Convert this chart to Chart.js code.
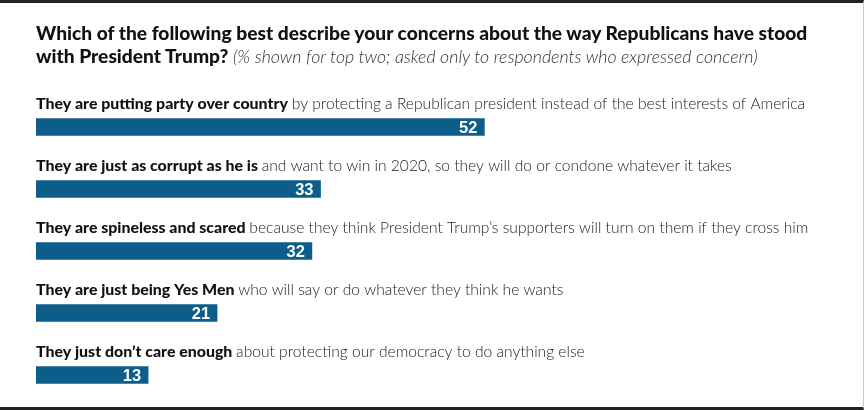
<!DOCTYPE html>
<html>
<head>
<meta charset="utf-8">
<script src="https://cdn.jsdelivr.net/npm/chart.js@4.4.1/dist/chart.umd.min.js"></script>
<style>
  html, body { margin: 0; padding: 0; background: #fff; }
  #wrap {
    position: relative;
    width: 864px;
    height: 410px;
    box-sizing: border-box;
    border-top: 3px solid #222;
    border-bottom: 3px solid #222;
    border-right: 1px solid #c8c8c8;
  }
  #title {
    position: absolute;
    left: 36px;
    top: 18px;
    font-family: Lato, sans-serif;
    font-weight: 900;
    font-size: 19.2px;
    line-height: 23px;
    color: #111;
    white-space: nowrap;
  }
  #title i {
    font-weight: 300;
    font-size: 17.8px;
    color: #333;
  }
  canvas { position: absolute; left: 0; top: -3px; }
</style>
</head>
<body>
<div id="wrap">
  <canvas id="chart" width="864" height="410"></canvas>
  <div id="title">Which of the following best describe your concerns about the way Republicans have stood<br>with President Trump? <i>(% shown for top two; asked only to respondents who expressed concern)</i></div>
</div>
<script>
const boldParts = [
  "They are putting party over country",
  "They are just as corrupt as he is",
  "They are spineless and scared",
  "They are just being Yes Men",
  "They just don\u2019t care enough",
];
const restParts = [
  "by protecting a Republican president instead of the best interests of America",
  "and want to win in 2020, so they will do or condone whatever it takes",
  "because they think President Trump\u2019s supporters will turn on them if they cross him",
  "who will say or do whatever they think he wants",
  "about protecting our democracy to do anything else",
];
const values = [52, 33, 32, 21, 13];

const barLabels = {
  id: "barLabels",
  afterDatasetsDraw(chart) {
    const ctx = chart.ctx;
    const meta = chart.getDatasetMeta(0);
    const yScale = chart.scales.y;
    ctx.save();
    meta.data.forEach((bar, i) => {
      // value inside bar end
      ctx.font = "bold 16.5px 'Liberation Sans', Arial, sans-serif";
      ctx.fillStyle = "#fff";
      ctx.textAlign = "right";
      ctx.textBaseline = "middle";
      ctx.fillText(String(values[i]), bar.x - 7, bar.y + 1);

      // category text above the bar
      const y = yScale.getPixelForValue(i) - 23;
      const x0 = chart.chartArea.left;
      ctx.textAlign = "left";
      ctx.font = "900 15.9px Lato, sans-serif";
      ctx.fillStyle = "#111";
      ctx.fillText(boldParts[i], x0, y);
      const w = ctx.measureText(boldParts[i] + " ").width;
      ctx.font = "300 15.6px Lato, sans-serif";
      ctx.fillStyle = "#222";
      ctx.fillText(restParts[i], x0 + w, y);
    });
    ctx.restore();
  },
};

new Chart(document.getElementById("chart").getContext("2d"), {
  type: "bar",
  data: {
    labels: boldParts,
    datasets: [
      {
        data: values,
        backgroundColor: "#0c5d89",
        barThickness: 17,
      },
    ],
  },
  options: {
    indexAxis: "y",
    responsive: false,
    animation: false,
    layout: { padding: { top: 96, bottom: 4, left: 36, right: 52 } },
    scales: {
      x: { display: false, min: 0, max: 90 },
      y: { display: false },
    },
    plugins: {
      legend: { display: false },
      tooltip: { enabled: false },
    },
  },
  plugins: [barLabels],
});
</script>
</body>
</html>
